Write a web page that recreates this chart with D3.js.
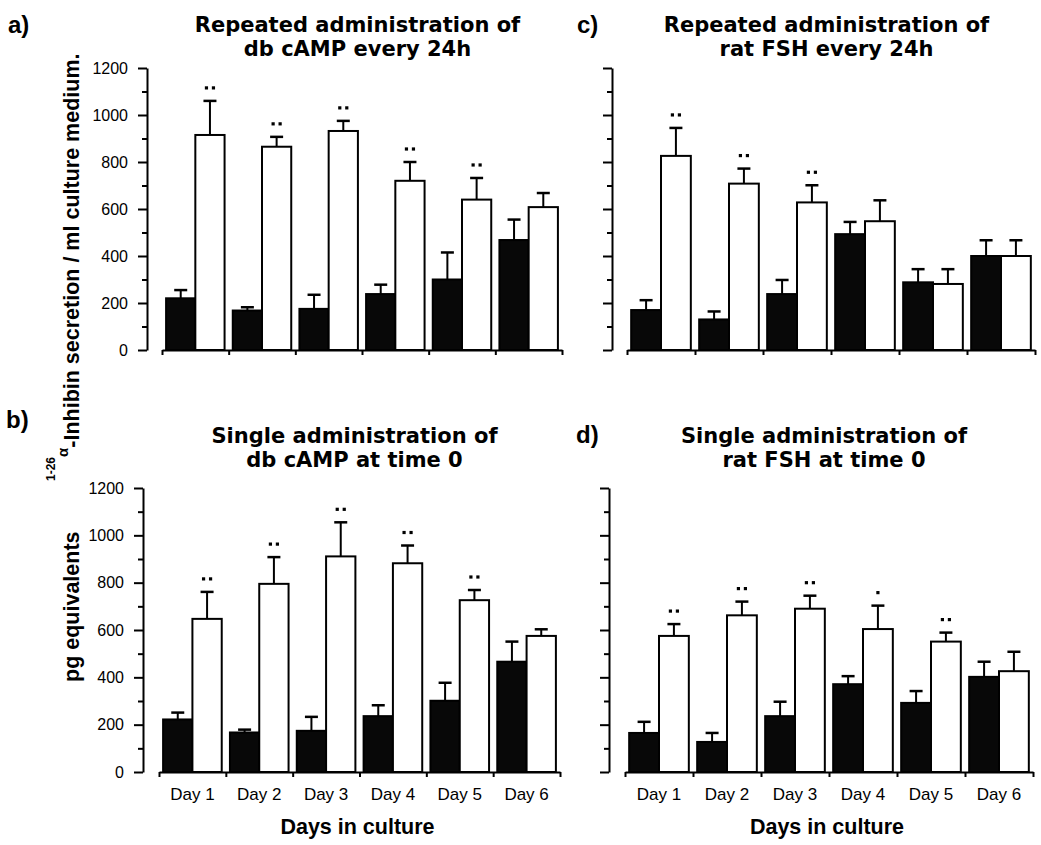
<!DOCTYPE html>
<html>
<head>
<meta charset="utf-8">
<script src="https://cdn.jsdelivr.net/npm/d3@7"></script>
<style>
  body { margin: 0; background: #fff; }
  svg { display: block; }
  .axis path, .axis line { stroke: #000; stroke-width: 2; }
  .axis text { font-family: "Liberation Sans", Arial, sans-serif; fill: #000; }
</style>
</head>
<body>
<svg width="1041" height="845"></svg>
<script>
// data (pg equivalents / ml), mean and SEM
const days = ["Day 1", "Day 2", "Day 3", "Day 4", "Day 5", "Day 6"];
const yTicks = [0, 200, 400, 600, 800, 1000, 1200];
const yMinor = [100, 300, 500, 700, 900, 1100];

const ctrlA = [220, 168, 175, 238, 300, 468];
const ctrlErrA = [35, 14, 60, 40, 115, 87];
const treatA = [915, 865, 932, 720, 640, 608];
const treatErrA = [145, 42, 43, 80, 92, 60];
const sigA = [2, 2, 2, 2, 2, 0];

const ctrlB = [222, 167, 174, 236, 301, 466];
const ctrlErrB = [29, 12, 59, 46, 76, 85];
const treatB = [647, 795, 911, 882, 726, 575];
const treatErrB = [114, 113, 144, 75, 43, 28];
const sigB = [2, 2, 2, 2, 2, 0];

const ctrlC = [170, 130, 238, 493, 288, 400];
const ctrlErrC = [42, 34, 60, 52, 56, 67];
const treatC = [826, 708, 628, 548, 281, 400];
const treatErrC = [119, 64, 73, 89, 63, 67];
const sigC = [2, 2, 2, 0, 0, 0];

const ctrlD = [165, 127, 236, 371, 292, 402];
const ctrlErrD = [47, 38, 61, 34, 50, 64];
const treatD = [575, 662, 690, 604, 551, 426];
const treatErrD = [50, 58, 55, 99, 38, 82];
const sigD = [2, 2, 2, 1, 2, 0];

const titleA = ["Repeated administration of", "db cAMP every 24h"];
const titleB = ["Single administration of", "db cAMP at time 0"];
const titleC = ["Repeated administration of", "rat FSH every 24h"];
const titleD = ["Single administration of", "rat FSH at time 0"];

const svg = d3.select("svg");
const sans = '"Liberation Sans", Arial, sans-serif';
const wide = '"DejaVu Sans", sans-serif';

// panel frames
let panels = [
    {tag: "a)", title: titleA, ctrl: ctrlA, ctrlErr: ctrlErrA, treat: treatA, treatErr: treatErrA, sig: sigA,
     axisX: 147, x0: 162, x1: 562, top: 68, bottom: 350, labels: true, days: false, tagX: 8, tagY: 33, titleY: 32},
    {tag: "b)", title: titleB, ctrl: ctrlB, ctrlErr: ctrlErrB, treat: treatB, treatErr: treatErrB, sig: sigB,
     axisX: 143, x0: 159, x1: 560, top: 488, bottom: 772, labels: true, days: true, tagX: 6, tagY: 428, titleY: 443},
    {tag: "c)", title: titleC, ctrl: ctrlC, ctrlErr: ctrlErrC, treat: treatC, treatErr: treatErrC, sig: sigC,
     axisX: 612, x0: 627, x1: 1035, top: 68, bottom: 350, labels: false, days: false, tagX: 577, tagY: 33, titleY: 32},
    {tag: "d)", title: titleD, ctrl: ctrlD, ctrlErr: ctrlErrD, treat: treatD, treatErr: treatErrD, sig: sigD,
     axisX: 609, x0: 625, x1: 1033, top: 488, bottom: 772, labels: false, days: true, tagX: 576, tagY: 443, titleY: 443}
];

function drawPanel(p) {
    let g = svg.append("g");
    let y = d3.scaleLinear().domain([0, 1200]).range([p.bottom, p.top]);
    let x = d3.scaleBand().domain(days).range([p.x0, p.x1]);
    let inner = d3.scaleBand().domain(["ctrl", "treat"]).range([0, x.bandwidth()]).paddingOuter(0.14);
    let edges = d3.scaleLinear().domain([0, days.length]).range([p.x0, p.x1]);

    // y axis, labelled major ticks and short minor ticks
    let yAxis = d3.axisLeft(y).tickValues(yTicks).tickSize(9).tickSizeOuter(0).tickPadding(10)
        .tickFormat(p.labels ? d3.format("d") : "");
    g.append("g").attr("class", "axis")
        .attr("transform", "translate(" + p.axisX + ",0)")
        .call(yAxis)
        .call(a => a.selectAll("text").style("font-size", "16px"));
    g.append("g").attr("class", "axis")
        .attr("transform", "translate(" + p.axisX + ",0)")
        .call(d3.axisLeft(y).tickValues(yMinor).tickSize(5).tickFormat(""))
        .call(a => a.select(".domain").remove());

    // x axis: line with small ticks at the day boundaries
    g.append("g").attr("class", "axis")
        .attr("transform", "translate(0," + p.bottom + ")")
        .call(d3.axisBottom(edges).tickValues(d3.range(0, days.length + 1)).tickSize(5).tickSizeOuter(0).tickFormat(""));
    if (p.days) {
        g.append("g").attr("class", "axis")
            .attr("transform", "translate(0," + p.bottom + ")")
            .call(d3.axisBottom(x).tickSize(0).tickPadding(16))
            .call(a => a.select(".domain").remove())
            .call(a => a.selectAll("text").style("font-size", "17px"));
        g.append("text")
            .attr("x", (p.x0 + p.x1) / 2 - 2).attr("y", 834)
            .attr("text-anchor", "middle")
            .style("font-family", sans).style("font-weight", "bold").style("font-size", "21.5px")
            .text("Days in culture");
    }

    let rows = days.map((d, i) => ({
        day: d,
        series: [
            {key: "ctrl", v: p.ctrl[i], e: p.ctrlErr[i], sig: 0},
            {key: "treat", v: p.treat[i], e: p.treatErr[i], sig: p.sig[i]}
        ]
    }));

    let groups = g.selectAll(".day")
        .data(rows)
        .enter().append("g")
        .attr("class", "day")
        .attr("transform", d => "translate(" + x(d.day) + ",0)");

    let bars = groups.selectAll(".bar")
        .data(d => d.series)
        .enter().append("g")
        .attr("class", "bar");

    // error bars (upper half only)
    bars.append("line")
        .attr("x1", d => inner(d.key) + inner.bandwidth() / 2)
        .attr("x2", d => inner(d.key) + inner.bandwidth() / 2)
        .attr("y1", d => y(d.v))
        .attr("y2", d => y(d.v + d.e))
        .attr("stroke", "#000").attr("stroke-width", 2);
    bars.append("line")
        .attr("x1", d => inner(d.key) + inner.bandwidth() / 2 - 6.5)
        .attr("x2", d => inner(d.key) + inner.bandwidth() / 2 + 6.5)
        .attr("y1", d => y(d.v + d.e))
        .attr("y2", d => y(d.v + d.e))
        .attr("stroke", "#000").attr("stroke-width", 2.5);

    bars.append("rect")
        .attr("x", d => inner(d.key))
        .attr("y", d => y(d.v))
        .attr("width", inner.bandwidth())
        .attr("height", d => y(0) - y(d.v))
        .attr("fill", d => d.key === "ctrl" ? "#080808" : "#fff")
        .attr("stroke", "#000").attr("stroke-width", 2);

    // significance dots
    bars.filter(d => d.sig > 0)
        .selectAll("rect.dot")
        .data(d => d3.range(d.sig).map(k => ({d: d, k: k})))
        .enter().append("rect")
        .attr("class", "dot")
        .attr("x", o => inner(o.d.key) + inner.bandwidth() / 2 - 1.6 + (o.d.sig === 2 ? (o.k === 0 ? -3.5 : 3.5) : 0))
        .attr("y", o => y(o.d.v + o.d.e) - 14.6)
        .attr("width", 3.2).attr("height", 3.2)
        .attr("fill", "#000");

    // title and panel letter
    let cx = (p.axisX + p.x1) / 2 + 3;
    g.append("text")
        .attr("x", cx).attr("y", p.titleY)
        .attr("text-anchor", "middle")
        .style("font-family", wide).style("font-weight", "bold").style("font-size", "21px")
        .selectAll("tspan")
        .data(p.title)
        .enter().append("tspan")
        .attr("x", cx)
        .attr("dy", (d, i) => i === 0 ? 0 : 24)
        .text(d => d);
    g.append("text")
        .attr("x", p.tagX).attr("y", p.tagY)
        .style("font-family", sans).style("font-weight", "bold").style("font-size", "24px")
        .text(p.tag);
}

panels.forEach(drawPanel);

// shared y axis label
let yl = svg.append("g").attr("transform", "translate(79,0) rotate(-90)")
    .style("font-family", sans).style("font-weight", "bold");
yl.append("text").attr("x", -682).attr("y", 0).style("font-size", "21.5px").text("pg equivalents");
let t2 = yl.append("text").attr("x", -481).attr("y", 0).style("font-size", "21.5px");
t2.append("tspan").attr("dy", -24).style("font-size", "12px").text("1-26");
t2.append("tspan").attr("dy", 13).style("font-size", "15px").text("\u03b1");
t2.append("tspan").attr("dy", 11).text("-Inhibin secretion / ml culture medium.");
</script>
</body>
</html>
